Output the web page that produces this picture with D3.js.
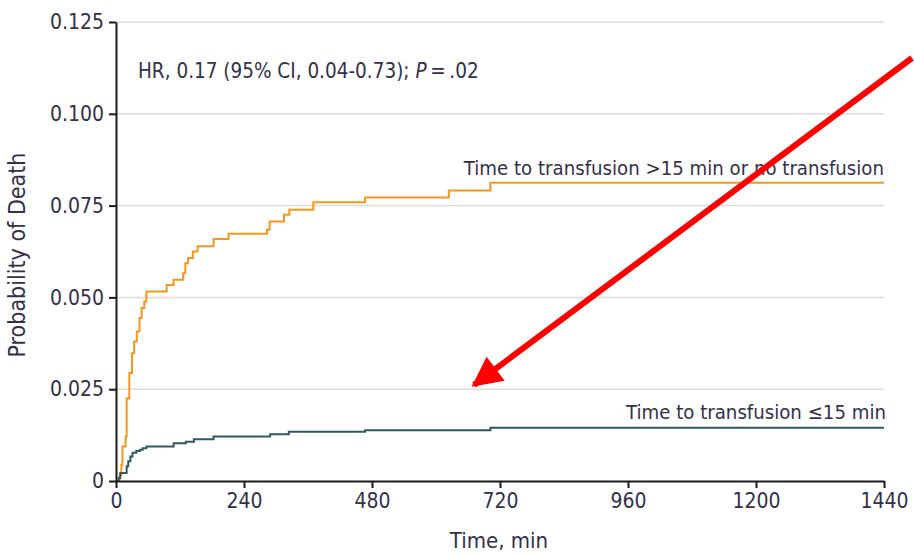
<!DOCTYPE html>
<html>
<head>
<meta charset="utf-8">
<script src="https://cdn.jsdelivr.net/npm/d3@7"></script>
<style>
  html, body { margin: 0; padding: 0; background: #fff; }
  svg text { font-family: "DejaVu Sans Condensed", "Liberation Sans Narrow", sans-serif; fill: #34304a; }
</style>
</head>
<body>
<svg id="chart" width="914" height="555"></svg>
<script>
// Kaplan-Meier style cumulative probability of death, step points (time in min)
const lateTimes  = [0, 7, 10, 12, 18, 20, 25, 30, 34, 39, 44, 48, 53, 57, 95, 108, 126, 130, 135, 144, 153, 183, 211, 283, 288, 315, 325, 370, 467, 624, 702, 1440];
const lateProb   = [0, 0.0016, 0.0044, 0.0094, 0.0121, 0.0225, 0.0294, 0.0348, 0.038, 0.0407, 0.0444, 0.0471, 0.0489, 0.0516, 0.0534, 0.0548, 0.0566, 0.0593, 0.0607, 0.0625, 0.0639, 0.0659, 0.0673, 0.0684, 0.0707, 0.0725, 0.0739, 0.0759, 0.0772, 0.0791, 0.0812, 0.0812];
const earlyTimes = [0, 5, 8, 20, 23, 27, 31, 38, 45, 50, 57, 108, 131, 146, 183, 289, 324, 467, 702, 1440];
const earlyProb  = [0, 0.0008, 0.0022, 0.004, 0.0054, 0.0067, 0.0077, 0.0082, 0.0085, 0.0089, 0.0094, 0.0103, 0.0107, 0.0114, 0.0121, 0.0127, 0.0134, 0.0138, 0.0145, 0.0145];

const xTicks = [0, 240, 480, 720, 960, 1200, 1440];
const yTicks = [0, 0.025, 0.05, 0.075, 0.1, 0.125];
const yTickLabels = ["0", "0.025", "0.050", "0.075", "0.100", "0.125"];

const seriesNames = ["Time to transfusion >15 min or no transfusion", "Time to transfusion \u226415 min"];
const seriesColors = ["#f7961f", "#2e5a62"];

const svg = d3.select("#chart");
const plotLeft = 116, plotRight = 884, plotTop = 22, plotBottom = 481;

const x = d3.scaleLinear().domain([0, 1440]).range([plotLeft, plotRight]);
const y = d3.scaleLinear().domain([0, 0.125]).range([plotBottom, plotTop]);

// horizontal gridlines
svg.append("g").selectAll("line").data(yTicks.filter(d => d > 0)).join("line")
  .attr("x1", plotLeft).attr("x2", plotRight)
  .attr("y1", d => y(d)).attr("y2", d => y(d))
  .attr("stroke", "#dcdcdc").attr("stroke-width", 1.5);

// survival step curves
const line = d3.line().x(d => x(d[0])).y(d => y(d[1])).curve(d3.curveStepAfter);
const series = [
  { t: lateTimes, p: lateProb },
  { t: earlyTimes, p: earlyProb }
];
series.forEach((s, i) => {
  svg.append("path")
    .datum(s.t.map((t, k) => [t, s.p[k]]))
    .attr("d", line)
    .attr("fill", "none")
    .attr("stroke", seriesColors[i])
    .attr("stroke-width", 2);
});

// axes
const xAxis = svg.append("g").attr("transform", `translate(0,${plotBottom})`)
  .call(d3.axisBottom(x).tickValues(xTicks).tickFormat(d3.format("d")).tickSize(7).tickSizeOuter(0).tickPadding(5));
const yAxis = svg.append("g").attr("transform", `translate(${plotLeft},0)`)
  .call(d3.axisLeft(y).tickValues(yTicks).tickFormat((d, i) => yTickLabels[i]).tickSize(7).tickSizeOuter(0).tickPadding(5));
[xAxis, yAxis].forEach(a => {
  a.select(".domain").attr("stroke", "#1a1a1a").attr("stroke-width", 2);
  a.selectAll(".tick line").attr("stroke", "#1a1a1a").attr("stroke-width", 2);
  a.selectAll(".tick text").attr("font-size", 21).style("fill", "#34304a")
    .style("font-family", "\"DejaVu Sans Condensed\", sans-serif");
});

// axis titles
svg.append("text")
  .attr("x", 499).attr("y", 548)
  .attr("text-anchor", "middle").attr("font-size", 22)
  .text("Time, min");
svg.append("text")
  .attr("transform", "translate(25,255) rotate(-90)")
  .attr("text-anchor", "middle").attr("font-size", 23)
  .text("Probability of Death");

// hazard ratio annotation
const hr = svg.append("text").attr("x", 138).attr("y", 78).attr("font-size", 20.5);
hr.append("tspan").text("HR, 0.17 (95% CI, 0.04-0.73); ");
hr.append("tspan").attr("font-style", "italic").text("P");
hr.append("tspan").text("\u2009=\u2009.02");

// series labels at the right end of each curve
svg.append("text")
  .attr("x", plotRight).attr("y", y(lateProb[lateProb.length - 1]) - 8)
  .attr("text-anchor", "end").attr("font-size", 20.2)
  .text(seriesNames[0]);
svg.append("text")
  .attr("x", plotRight + 2).attr("y", y(earlyProb[earlyProb.length - 1]) - 9)
  .attr("text-anchor", "end").attr("font-size", 20.2)
  .text(seriesNames[1]);

// red pointer arrow
const defs = svg.append("defs");
defs.append("marker")
  .attr("id", "arrowhead")
  .attr("viewBox", "0 0 10 10")
  .attr("refX", 9).attr("refY", 5)
  .attr("markerWidth", 5.5).attr("markerHeight", 5)
  .attr("markerUnits", "strokeWidth")
  .attr("orient", "auto")
  .append("path").attr("d", "M0,0 L10,5 L0,10 Z").attr("fill", "#ff0000");
svg.append("line")
  .attr("x1", 912).attr("y1", 58)
  .attr("x2", 474).attr("y2", 385)
  .attr("stroke", "#ff0000").attr("stroke-width", 6)
  .attr("marker-end", "url(#arrowhead)");
</script>
</body>
</html>
